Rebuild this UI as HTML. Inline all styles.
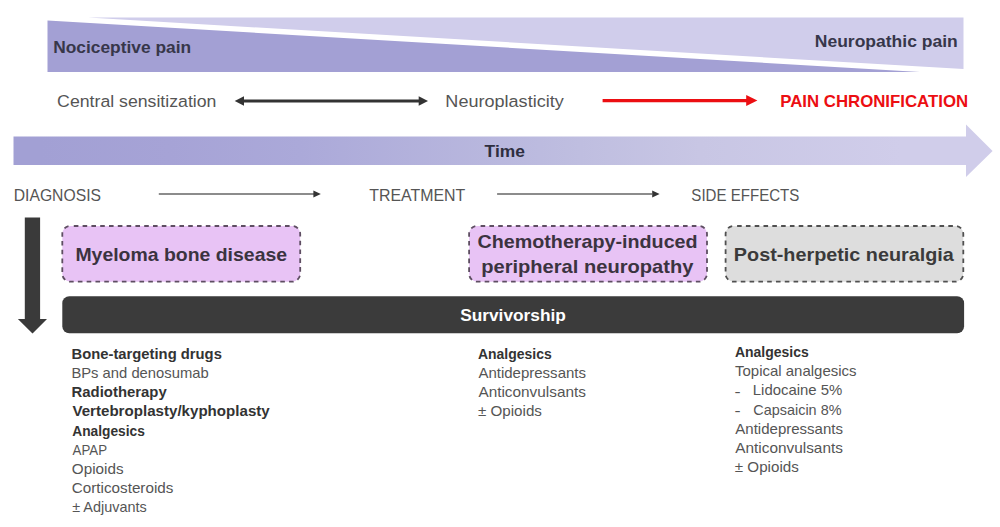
<!DOCTYPE html>
<html><head><meta charset="utf-8"><style>
html,body{margin:0;padding:0;background:#fff;width:1000px;height:527px;overflow:hidden}
svg{display:block}
text{font-family:"Liberation Sans",sans-serif}
</style></head><body>
<svg width="1000" height="527" viewBox="0 0 1000 527">
<defs>
<linearGradient id="tg" x1="13" y1="0" x2="993" y2="0" gradientUnits="userSpaceOnUse">
<stop offset="0.028" stop-color="#a2a0d4"/><stop offset="0.16" stop-color="#a6a3d6"/><stop offset="0.293" stop-color="#aba9d9"/><stop offset="0.579" stop-color="#bfbee0"/><stop offset="0.701" stop-color="#c8c6e4"/><stop offset="0.905" stop-color="#d0cdea"/>
</linearGradient>
</defs>
<!-- top wedge shapes -->
<polygon points="88,17.5 963.5,17.5 963.5,69" fill="#d0cdeb"/>
<polygon points="47.5,20.5 920,72 47.5,72" fill="#a3a0d4"/>
<!-- row 2 arrows -->
<line x1="243" y1="101" x2="420" y2="101" stroke="#333333" stroke-width="2.8"/>
<polygon points="234.7,101 244,96.3 244,105.7" fill="#333333"/>
<polygon points="428,101 418.7,96.3 418.7,105.7" fill="#333333"/>
<line x1="602.6" y1="100.6" x2="748" y2="100.6" stroke="#ec0e12" stroke-width="3.2"/>
<polygon points="757.4,100.6 746.2,95.1 746.2,106.1" fill="#ec0e12"/>
<!-- time arrow -->
<polygon points="13.5,136.5 966,136.5 966,124.4 992.6,151 966,177 966,165 13.5,165" fill="url(#tg)"/>
<!-- row 3 arrows -->
<line x1="158.8" y1="194" x2="314" y2="194" stroke="#666666" stroke-width="1.4"/>
<polygon points="320.8,194 313.4,190.5 313.4,197.5" fill="#333333"/>
<line x1="497.1" y1="194" x2="652" y2="194" stroke="#666666" stroke-width="1.4"/>
<polygon points="659.6,194 652.2,190.5 652.2,197.5" fill="#333333"/>
<!-- down arrow -->
<polygon points="24.8,217.4 40.1,217.4 40.1,319.1 47,319.1 32.5,333.6 17.9,319.1 24.8,319.1" fill="#3a3a3a"/>
<!-- boxes -->
<rect x="62.3" y="226" width="237.9" height="55.7" rx="8" fill="#e8c3f5" stroke="#5e4e62" stroke-width="1.8" stroke-dasharray="4.6 4.2" stroke-dashoffset="5.3"/>
<rect x="469.1" y="226" width="237.9" height="55.7" rx="8" fill="#e8c3f5" stroke="#5e4e62" stroke-width="1.8" stroke-dasharray="4.6 4.2" stroke-dashoffset="5.3"/>
<rect x="725.6" y="226" width="237.7" height="55.7" rx="8" fill="#dddddd" stroke="#505050" stroke-width="1.8" stroke-dasharray="4.6 4.2" stroke-dashoffset="5.3"/>
<rect x="62.3" y="296.3" width="901.8" height="37" rx="7" fill="#3b3b3b"/>
<text x="53.19" y="52.90" font-size="16.8" font-weight="bold" fill="#37374a" textLength="137.87" lengthAdjust="spacingAndGlyphs">Nociceptive pain</text>
<text x="814.77" y="46.90" font-size="16.8" font-weight="bold" fill="#37374a" textLength="142.93" lengthAdjust="spacingAndGlyphs">Neuropathic pain</text>
<text x="57.12" y="106.75" font-size="16.8" font-weight="normal" fill="#555555" textLength="159.33" lengthAdjust="spacingAndGlyphs">Central sensitization</text>
<text x="445.36" y="106.75" font-size="16.8" font-weight="normal" fill="#555555" textLength="118.39" lengthAdjust="spacingAndGlyphs">Neuroplasticity</text>
<text x="780.22" y="106.90" font-size="16.6" font-weight="bold" fill="#ec0e12" textLength="187.86" lengthAdjust="spacingAndGlyphs">PAIN CHRONIFICATION</text>
<text x="484.58" y="156.75" font-size="16.6" font-weight="bold" fill="#2e2e40" textLength="40.30" lengthAdjust="spacingAndGlyphs">Time</text>
<text x="13.74" y="200.90" font-size="17.0" font-weight="normal" fill="#555555" textLength="87.24" lengthAdjust="spacingAndGlyphs">DIAGNOSIS</text>
<text x="369.28" y="200.90" font-size="17.0" font-weight="normal" fill="#555555" textLength="96.04" lengthAdjust="spacingAndGlyphs">TREATMENT</text>
<text x="691.35" y="200.70" font-size="17.0" font-weight="normal" fill="#555555" textLength="107.97" lengthAdjust="spacingAndGlyphs">SIDE EFFECTS</text>
<text x="75.44" y="260.60" font-size="19.0" font-weight="bold" fill="#3b3340" textLength="211.60" lengthAdjust="spacingAndGlyphs">Myeloma bone disease</text>
<text x="477.51" y="248.00" font-size="19.0" font-weight="bold" fill="#3b3340" textLength="220.13" lengthAdjust="spacingAndGlyphs">Chemotherapy-induced</text>
<text x="481.19" y="273.40" font-size="19.0" font-weight="bold" fill="#3b3340" textLength="212.26" lengthAdjust="spacingAndGlyphs">peripheral neuropathy</text>
<text x="733.86" y="260.50" font-size="19.0" font-weight="bold" fill="#3a3a3a" textLength="220.02" lengthAdjust="spacingAndGlyphs">Post-herpetic neuralgia</text>
<text x="460.18" y="321.30" font-size="17.2" font-weight="bold" fill="#ffffff" textLength="105.66" lengthAdjust="spacingAndGlyphs">Survivorship</text>
<text x="71.56" y="358.70" font-size="14.2" font-weight="bold" fill="#333333" textLength="150.32" lengthAdjust="spacingAndGlyphs">Bone-targeting drugs</text>
<text x="71.42" y="377.90" font-size="14.2" font-weight="normal" fill="#555555" textLength="137.24" lengthAdjust="spacingAndGlyphs">BPs and denosumab</text>
<text x="71.56" y="397.10" font-size="14.2" font-weight="bold" fill="#333333" textLength="95.19" lengthAdjust="spacingAndGlyphs">Radiotherapy</text>
<text x="72.45" y="416.30" font-size="14.2" font-weight="bold" fill="#333333" textLength="197.30" lengthAdjust="spacingAndGlyphs">Vertebroplasty/kyphoplasty</text>
<text x="72.19" y="435.50" font-size="14.2" font-weight="bold" fill="#333333" textLength="72.67" lengthAdjust="spacingAndGlyphs">Analgesics</text>
<text x="72.60" y="454.70" font-size="14.2" font-weight="normal" fill="#555555" textLength="34.52" lengthAdjust="spacingAndGlyphs">APAP</text>
<text x="71.84" y="473.90" font-size="14.2" font-weight="normal" fill="#555555" textLength="51.68" lengthAdjust="spacingAndGlyphs">Opioids</text>
<text x="71.84" y="493.10" font-size="14.2" font-weight="normal" fill="#555555" textLength="101.56" lengthAdjust="spacingAndGlyphs">Corticosteroids</text>
<text x="72.17" y="512.30" font-size="14.2" font-weight="normal" fill="#555555" textLength="74.51" lengthAdjust="spacingAndGlyphs">± Adjuvants</text>
<text x="477.98" y="358.70" font-size="14.2" font-weight="bold" fill="#333333" textLength="73.78" lengthAdjust="spacingAndGlyphs">Analgesics</text>
<text x="478.40" y="377.90" font-size="14.2" font-weight="normal" fill="#555555" textLength="107.61" lengthAdjust="spacingAndGlyphs">Antidepressants</text>
<text x="478.40" y="397.10" font-size="14.2" font-weight="normal" fill="#555555" textLength="107.52" lengthAdjust="spacingAndGlyphs">Anticonvulsants</text>
<text x="477.94" y="416.30" font-size="14.2" font-weight="normal" fill="#555555" textLength="64.02" lengthAdjust="spacingAndGlyphs">± Opioids</text>
<text x="734.88" y="356.90" font-size="14.2" font-weight="bold" fill="#333333" textLength="73.88" lengthAdjust="spacingAndGlyphs">Analgesics</text>
<text x="735.00" y="376.10" font-size="14.2" font-weight="normal" fill="#555555" textLength="121.54" lengthAdjust="spacingAndGlyphs">Topical analgesics</text>
<text x="734.56" y="396.80" font-size="14.2" font-weight="normal" fill="#555555" textLength="6.13" lengthAdjust="spacingAndGlyphs">-</text>
<text x="752.81" y="395.30" font-size="14.2" font-weight="normal" fill="#555555" textLength="89.51" lengthAdjust="spacingAndGlyphs">Lidocaine 5%</text>
<text x="734.56" y="416.00" font-size="14.2" font-weight="normal" fill="#555555" textLength="6.13" lengthAdjust="spacingAndGlyphs">-</text>
<text x="753.28" y="414.50" font-size="14.2" font-weight="normal" fill="#555555" textLength="88.22" lengthAdjust="spacingAndGlyphs">Capsaicin 8%</text>
<text x="735.30" y="433.70" font-size="14.2" font-weight="normal" fill="#555555" textLength="107.71" lengthAdjust="spacingAndGlyphs">Antidepressants</text>
<text x="735.30" y="452.90" font-size="14.2" font-weight="normal" fill="#555555" textLength="107.62" lengthAdjust="spacingAndGlyphs">Anticonvulsants</text>
<text x="734.85" y="472.10" font-size="14.2" font-weight="normal" fill="#555555" textLength="63.92" lengthAdjust="spacingAndGlyphs">± Opioids</text>
</svg>
</body></html>
